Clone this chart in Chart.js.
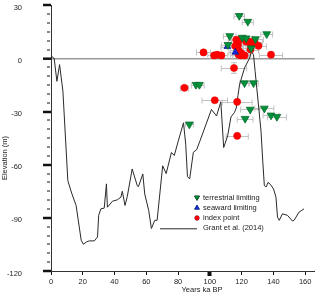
<!DOCTYPE html>
<html>
<head>
<meta charset="utf-8">
<script src="https://cdn.jsdelivr.net/npm/chart.js@4.4.1/dist/chart.umd.min.js"></script>
<style>
  html, body { margin: 0; padding: 0; background: #fff; }
</style>
</head>
<body>
<canvas id="seaLevelChart" width="320" height="296"></canvas>
<script>
// Grant et al. (2014) curve, age (ka BP) and elevation (m)
const curveAge = [0, 2, 3.7, 5.4, 7.5, 10.6, 13, 15.8, 19, 20.4, 22.5, 24.1, 27.3, 29.3, 30, 31.4, 33.5, 34.9, 35.5, 38.7,
  41.8, 44, 44.9, 46.6, 48, 51.1, 54.3, 55, 57.8, 59, 61.5, 63.2, 65.3, 66.8, 70.3, 72.5, 75.8, 77.6, 80, 83.4,
  84.8, 85.9, 87.3, 89.6, 91.7, 93.8, 101, 104.2, 106.9, 108.7, 111.2, 113.3, 115.5, 116.6, 117.7, 118.7, 121.8, 125, 126.2, 127.5,
  128.5, 131, 132.2, 133.3, 134.3, 135.5, 136.6, 138, 140.1, 141.6, 142.6, 143.7, 145.7, 148.9, 152, 153, 156.1, 157.5, 159.3];
const curveElev = [1.5, 0, -12.9, -3.5, -18.5, -69, -76, -83, -102.6, -104.9, -103.5, -103, -103, -100.8, -88.6, -84.9, -84.5, -70.8, -84, -80.6,
  -79.8, -78.3, -75, -83, -78, -62.4, -71.8, -72.5, -65.2, -76.5, -85.8, -96, -91.4, -91.4, -60.6, -65, -53.1, -54.8, -47, -36.3,
  -48.4, -66.7, -68, -53, -51.5, -46.5, -28.8, -32.5, -24.5, -50.3, -43.7, -33, -30.5, -28, -21, -14.8, -5.4, 0.2, 4, 2,
  -7.3, -30, -41, -58, -71.8, -72.5, -70, -71, -73.7, -78.3, -89.6, -91.4, -87.7, -88.6, -91.8, -91.4, -86.8, -86, -84.9];

// terrestrial limiting
const terrAge = [118.5, 123.9, 112.5, 120.4, 122.8, 128.7, 135.8, 111.4, 126, 91.3, 93.4, 121.8, 127.5, 125.4, 134.3, 138.5, 142.2, 122.2, 87.1];
const terrElev = [24.1, 20.8, 12.7, 11.8, 11.4, 11, 13.8, 7.7, 5.8, -14.8, -14.8, -13.9, -13.9, -28.8, -28.2, -32.1, -32.9, -34, -37.2];
const terrErr = [3.3, 3.5, 4, 4, 4, 5, 3.7, 4, 5, 3, 3, 3, 3, 6, 6, 5, 6, 5, 2.5];

// seaward limiting
const seaAge = [111, 116];
const seaElev = [6.7, 3.5];
const seaErr = [4, 4];

// index points
const idxAge = [96, 102.7, 104.6, 107.3, 115.2, 116.6, 117.7, 118.1, 118.1, 119.4, 121.8, 125, 126, 125.6, 130.6, 138.5, 84, 103.1, 117.2, 117.2,
  118.7, 122.8, 128.1, 119.7, 116];
const idxElev = [3.4, 1.7, 2.1, 1.7, -5.4, 10.5, 7.7, 4.5, 2.1, 1.7, 1.7, 9.5, 7.7, 5, 7.1, 2.1, -16.6, -23.6, -24.5, -43.7,
  10.5, 9.5, 9.5, 3, 7];
const idxErr = [4.4, 4, 4, 4, 8, 5, 5, 5, 5, 5, 4, 5, 5, 5, 5, 7.3, 2.6, 8, 9.4, 7,
  5, 5, 5, 5, 5];
const idxErrY = [0, 0, 0, 0, 3, 0, 0, 0, 0, 0, 0, 0, 0, 0, 0, 0, 1, 0, 0, 0,
  0, 0, 0, 0, 0];

const FONT = '"Liberation Sans", Arial, sans-serif';

function toPoints(xs, ys) {
  return xs.map((v, i) => ({ x: v, y: ys[i] }));
}

// horizontal (and a few vertical) error bars behind the markers
const errorBars = {
  id: 'errorBars',
  beforeDatasetsDraw(chart) {
    const { ctx, scales: { x, y } } = chart;
    ctx.save();
    ctx.strokeStyle = '#c2c2c2';
    ctx.lineWidth = 1;
    chart.data.datasets.forEach(ds => {
      if (!ds.xErr) return;
      ds.data.forEach((p, i) => {
        const py = Math.round(y.getPixelForValue(p.y)) + 0.5;
        const px = x.getPixelForValue(p.x);
        const xa = x.getPixelForValue(p.x - ds.xErr[i]);
        const xb = x.getPixelForValue(p.x + ds.xErr[i]);
        ctx.beginPath();
        ctx.moveTo(xa, py); ctx.lineTo(xb, py);
        ctx.moveTo(xa, py - 3); ctx.lineTo(xa, py + 3);
        ctx.moveTo(xb, py - 3); ctx.lineTo(xb, py + 3);
        if (ds.yErr && ds.yErr[i]) {
          const ya = y.getPixelForValue(p.y - ds.yErr[i]);
          const yb = y.getPixelForValue(p.y + ds.yErr[i]);
          ctx.moveTo(px, ya); ctx.lineTo(px, yb);
          ctx.moveTo(px - 3, ya); ctx.lineTo(px + 3, ya);
          ctx.moveTo(px - 3, yb); ctx.lineTo(px + 3, yb);
        }
        ctx.stroke();
      });
    });
    ctx.restore();
  }
};

// axis titles and the legend inside the plot
const annotations = {
  id: 'annotations',
  afterDraw(chart) {
    const ctx = chart.ctx;
    const ds = chart.data.datasets;
    ctx.save();
    ctx.fillStyle = '#222';
    ctx.font = '7.5px ' + FONT;
    ctx.textAlign = 'center';
    ctx.textBaseline = 'middle';
    ctx.fillText('Years ka BP', 202, 290);
    ctx.translate(5, 158);
    ctx.rotate(-Math.PI / 2);
    ctx.fillText('Elevation (m)', 0, 0);
    ctx.restore();

    const rows = [
      { ds: ds[1], label: 'terrestrial limiting', y: 197.5 },
      { ds: ds[2], label: 'seaward limiting', y: 207.8 },
      { ds: ds[3], label: 'index point', y: 218 },
      { ds: ds[0], label: 'Grant et al. (2014)', y: 228.3 }
    ];
    ctx.save();
    ctx.font = '7.5px ' + FONT;
    ctx.textBaseline = 'middle';
    rows.forEach(r => {
      if (r.ds.showLine) {
        ctx.strokeStyle = r.ds.borderColor;
        ctx.lineWidth = 1;
        ctx.beginPath();
        ctx.moveTo(160, r.y + 0.5);
        ctx.lineTo(197, r.y + 0.5);
        ctx.stroke();
      } else {
        Chart.helpers.drawPoint(ctx, {
          pointStyle: r.ds.pointStyle,
          rotation: r.ds.rotation || 0,
          radius: r.ds.pointStyle === 'circle' ? 2.2 : 2.8,
          borderWidth: 0.5
        }, 197, r.y);
        ctx.fillStyle = r.ds.backgroundColor;
        ctx.strokeStyle = r.ds.borderColor;
        ctx.lineWidth = 0.5;
        ctx.fill();
        ctx.stroke();
      }
      ctx.fillStyle = '#222';
      ctx.fillText(r.label, 203, r.y);
    });
    ctx.restore();
  }
};

const ctx = document.getElementById('seaLevelChart').getContext('2d');

new Chart(ctx, {
  type: 'scatter',
  data: {
    datasets: [
      {
        label: 'Grant et al. (2014)',
        data: toPoints(curveAge, curveElev),
        showLine: true,
        borderColor: '#2a2a2a',
        borderWidth: 1,
        pointRadius: 0,
        tension: 0,
        order: 4
      },
      {
        label: 'terrestrial limiting',
        data: toPoints(terrAge, terrElev),
        xErr: terrErr,
        pointStyle: 'triangle',
        rotation: 180,
        pointRadius: 4.5,
        backgroundColor: '#00923a',
        borderColor: '#0a6b2c',
        borderWidth: 0.8,
        order: 1
      },
      {
        label: 'seaward limiting',
        data: toPoints(seaAge, seaElev),
        xErr: seaErr,
        pointStyle: 'triangle',
        pointRadius: 3.8,
        backgroundColor: '#1428d8',
        borderColor: '#0a1aa0',
        borderWidth: 0.8,
        order: 2
      },
      {
        label: 'index point',
        data: toPoints(idxAge, idxElev),
        xErr: idxErr,
        yErr: idxErrY,
        pointStyle: 'circle',
        pointRadius: 3.6,
        backgroundColor: '#ff0000',
        borderColor: '#e80000',
        borderWidth: 0.5,
        order: 3
      }
    ]
  },
  options: {
    responsive: false,
    animation: false,
    layout: { padding: { top: 3.5, right: 3, left: 0, bottom: 0 } },
    plugins: {
      legend: { display: false },
      tooltip: { enabled: false }
    },
    scales: {
      x: {
        type: 'linear',
        min: 0,
        max: 166,
        afterFit: (scale) => { scale.height = 25; scale.paddingLeft = 0; scale.paddingRight = 0; },
        border: { color: '#333', width: 1 },
        grid: {
          drawOnChartArea: false,
          tickLength: 5,
          tickColor: '#111',
          tickWidth: (c) => (c.tick && c.tick.value === 100 ? 4 : 1),
          tickBorderDash: (c) => (c.tick && c.tick.value === 100 ? [] : [3, 20])
        },
        ticks: {
          stepSize: 20,
          includeBounds: false,
          padding: 1,
          color: '#222',
          font: { family: FONT, size: 7.5 },
          maxRotation: 0
        }
      },
      y: {
        type: 'linear',
        min: -120,
        max: 30,
        afterFit: (scale) => { scale.width = 51; scale.paddingTop = 0; scale.paddingBottom = 0; },
        border: { color: '#333', width: 1 },
        grid: {
          tickLength: 8,
          color: (c) => (c.tick && c.tick.value === 0 ? '#9a9a9a' : 'rgba(0,0,0,0)'),
          lineWidth: (c) => (c.tick && c.tick.value === 0 ? 1.4 : 0),
          tickColor: '#111',
          tickWidth: (c) => (c.tick && c.tick.value % 30 === 0 ? 2.5 : 1),
          tickBorderDash: (c) => (c.tick && c.tick.value % 30 === 0 ? [] : [0, 4, 3, 20])
        },
        ticks: {
          stepSize: 5,
          autoSkip: false,
          padding: 21,
          labelOffset: 2.5,
          color: '#222',
          font: { family: FONT, size: 7.5 },
          callback: (v) => (v % 30 === 0 ? String(v) : '')
        }
      }
    }
  },
  plugins: [errorBars, annotations]
});
</script>
</body>
</html>
